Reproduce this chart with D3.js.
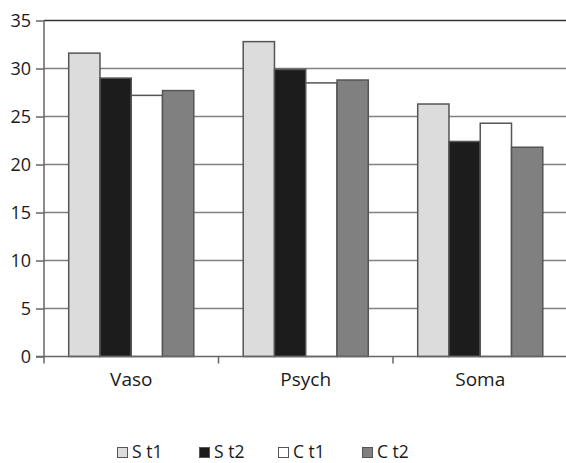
<!DOCTYPE html>
<html>
<head>
<meta charset="utf-8">
<script src="https://cdn.jsdelivr.net/npm/d3@7"></script>
<style>
  html, body { margin: 0; padding: 0; background: #fff; }
  svg { display: block; }
  text { font-family: "Open Sans", "Noto Sans", sans-serif; fill: #1a1a1a; }
</style>
</head>
<body>
<script>
const categories = ["Vaso", "Psych", "Soma"];
const seriesNames = ["S t1", "S t2", "C t1", "C t2"];
const sT1 = [31.6, 32.8, 26.3];
const sT2 = [29.0, 29.9, 22.4];
const cT1 = [27.2, 28.5, 24.3];
const cT2 = [27.7, 28.8, 21.8];
const yTicks = [0, 5, 10, 15, 20, 25, 30, 35];
const seriesColors = ["#dcdcdc", "#1c1c1c", "#ffffff", "#808080"];

(function () {
const seriesValues = [sT1, sT2, cT1, cT2];
const W = 566, H = 463;
const svg = d3.select("body").append("svg").attr("width", W).attr("height", H);

const mLeft = 44, mRight = 567.5, mTop = 20.5, mBottom = 356.5;
const x0 = d3.scaleBand().domain(categories).range([mLeft, mRight]).padding(0);
const x1 = d3.scaleBand().domain(seriesNames).range([0, x0.bandwidth()]).paddingInner(0).paddingOuter(0.79);
const y = d3.scaleLinear().domain([0, 35]).range([mBottom, mTop]);

// gridlines
svg.append("g").selectAll("line").data(yTicks.filter(t => t > 0)).join("line")
  .attr("x1", mLeft).attr("x2", W)
  .attr("y1", d => y(d)).attr("y2", d => y(d))
  .attr("stroke", d => d === 35 ? "#333" : "#808080")
  .attr("stroke-width", 1.5);

// bars
const data = [];
categories.forEach((c, i) => seriesNames.forEach((s, j) => data.push({c, s, v: seriesValues[j][i], col: seriesColors[j]})));
svg.append("g").selectAll("rect").data(data).join("rect")
  .attr("x", d => x0(d.c) + x1(d.s))
  .attr("y", d => y(d.v))
  .attr("width", x1.bandwidth())
  .attr("height", d => mBottom - y(d.v))
  .attr("fill", d => d.col)
  .attr("stroke", "#555")
  .attr("stroke-width", 1.5);

// y axis
const yAxis = d3.axisLeft(y).tickValues(yTicks).tickSize(8).tickPadding(5).tickSizeOuter(0);
const gy = svg.append("g").attr("transform", `translate(${mLeft},0)`).call(yAxis);
gy.select(".domain").remove();
gy.selectAll(".tick line").attr("stroke", "#666").attr("stroke-width", 1.5);
gy.selectAll(".tick text").attr("font-size", 18).attr("fill", "#1a1a1a").attr("dy", "0.34em")
  .style("font-family", "'Open Sans', 'Noto Sans', sans-serif");
svg.append("line").attr("x1", mLeft).attr("x2", mLeft).attr("y1", mTop).attr("y2", mBottom + 7)
  .attr("stroke", "#666").attr("stroke-width", 1.5);

// x axis
svg.append("line").attr("x1", mLeft - 8).attr("x2", W).attr("y1", mBottom).attr("y2", mBottom)
  .attr("stroke", "#666").attr("stroke-width", 1.5);
svg.append("g").selectAll("line").data(categories.slice(1)).join("line")
  .attr("x1", d => x0(d)).attr("x2", d => x0(d))
  .attr("y1", mBottom).attr("y2", mBottom + 7)
  .attr("stroke", "#666").attr("stroke-width", 1.5);
svg.append("g").selectAll("text").data(categories).join("text")
  .attr("x", d => x0(d) + x0.bandwidth() / 2)
  .attr("y", 386)
  .attr("text-anchor", "middle")
  .attr("font-size", 19)
  .text(d => d);

// legend
const legendX = [117, 199, 278, 362];
const lg = svg.append("g").selectAll("g").data(seriesNames).join("g")
  .attr("transform", (d, i) => `translate(${legendX[i]},0)`);
lg.append("rect").attr("x", 0.5).attr("y", 447.5).attr("width", 10).attr("height", 10)
  .attr("fill", (d, i) => seriesColors[i]).attr("stroke", "#555").attr("stroke-width", 1);
lg.append("text").attr("x", 15).attr("y", 458).attr("font-size", 17.5).text(d => d);
})();
</script>
</body>
</html>
